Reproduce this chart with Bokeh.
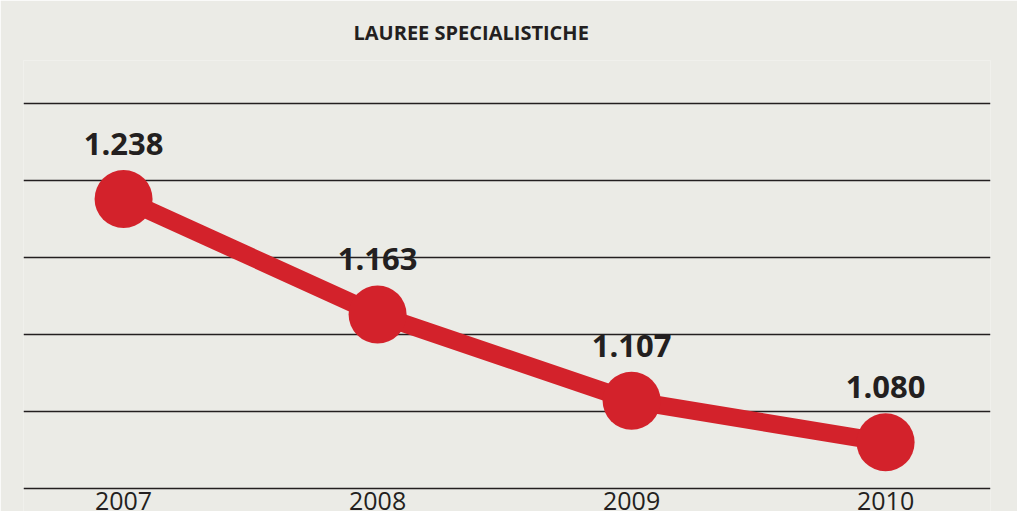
from bokeh.plotting import figure
from bokeh.models import ColumnDataSource, Range1d, FixedTicker, Title
from bokeh.core.properties import value
from bokeh.embed import file_html
from bokeh.resources import INLINE

years = [2007, 2008, 2009, 2010]
year_labels = ["2007", "2008", "2009", "2010"]
graduates = [1238, 1163, 1107, 1080]
labels = ["1.238", "1.163", "1.107", "1.080"]
grid_ticks = [1050, 1100, 1150, 1200, 1250, 1300]
title_text = "LAUREE SPECIALISTICHE"

BG = "#EBEBE6"
RED = "#D3222B"
DARK = "#231F20"

Y_START, Y_END = 1035.06, 1327.92

src = ColumnDataSource(dict(x=years, y=graduates, label=labels))
ysrc = ColumnDataSource(dict(x=years, y=[Y_START] * len(years), label=year_labels))

p = figure(width=1017, height=511, output_backend="svg", toolbar_location=None,
           x_range=Range1d(2006.606, 2010.413), y_range=Range1d(Y_START, Y_END),
           min_border_left=23, min_border_right=27, min_border_top=60, min_border_bottom=0)
p.background_fill_color = BG
p.border_fill_color = BG
p.outline_line_color = None

t = Title(text=title_text, align="left", offset=330, text_font="Open Sans",
          text_font_size="20px", text_font_style="bold", text_color=DARK, standoff=30)
p.add_layout(t, "above")

p.line("x", "y", source=src, line_color=RED, line_width=18)
p.scatter("x", "y", source=src, size=58, fill_color=RED, line_color=None)
p.text("x", "y", text="label", source=src, text_font=value("Open Sans"), text_font_size="31px",
       text_font_style="bold", text_color=DARK, text_align="center", text_baseline="alphabetic",
       y_offset=-55)
p.text("x", "y", text="label", source=ysrc, text_font=value("Open Sans"), text_font_size="25px",
       text_color=DARK, text_align="center", text_baseline="alphabetic", y_offset=-11)

p.xaxis.visible = False
p.yaxis.visible = False
p.ygrid.ticker = FixedTicker(ticks=grid_ticks)
p.ygrid.grid_line_color = DARK
p.ygrid.grid_line_width = 1.5
p.xgrid.visible = False

open("out.html", "w").write(file_html(p, INLINE))
